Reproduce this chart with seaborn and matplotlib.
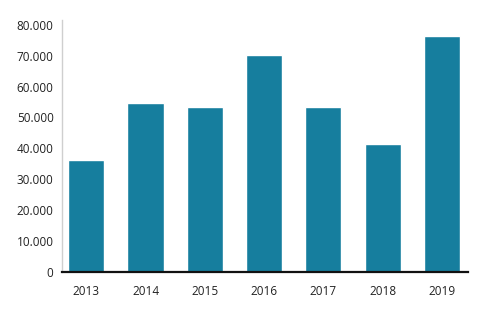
import matplotlib
matplotlib.use("Agg")
import matplotlib.pyplot as plt
import seaborn as sns
import pandas as pd
from matplotlib.ticker import FuncFormatter

years = ["2013", "2014", "2015", "2016", "2017", "2018", "2019"]
values = [36200, 54700, 53500, 70300, 53500, 41300, 76300]
yticks = [0, 10000, 20000, 30000, 40000, 50000, 60000, 70000, 80000]

sns.set_style("white")
plt.rcParams["font.family"] = ["Open Sans", "DejaVu Sans"]

df = pd.DataFrame({"year": years, "value": values})

fig = plt.figure(figsize=(4.84, 3.09), dpi=100)
ax = fig.add_axes([0.128, 0.121, 0.839, 0.814])
sns.barplot(data=df, x="year", y="value", color="#167E9E", saturation=1,
            width=0.61, ax=ax)

ax.set_xlim(-0.41, 6.44)
ax.set_ylim(0, 81600)
ax.set_yticks(yticks)
ax.yaxis.set_major_formatter(FuncFormatter(lambda v, p: f"{int(v):,}".replace(",", ".")))
ax.set_xlabel("")
ax.set_ylabel("")
for s in ["top", "right"]:
    ax.spines[s].set_visible(False)
ax.spines["left"].set_color("#cfcfcf")
ax.spines["left"].set_linewidth(1.0)
ax.spines["bottom"].set_color("#111111")
ax.spines["bottom"].set_linewidth(1.6)
ax.tick_params(axis="both", length=0, labelsize=8.5, colors="#222222")
ax.tick_params(axis="y", pad=6)
ax.tick_params(axis="x", pad=10)

fig.savefig("out.png", dpi=100)
